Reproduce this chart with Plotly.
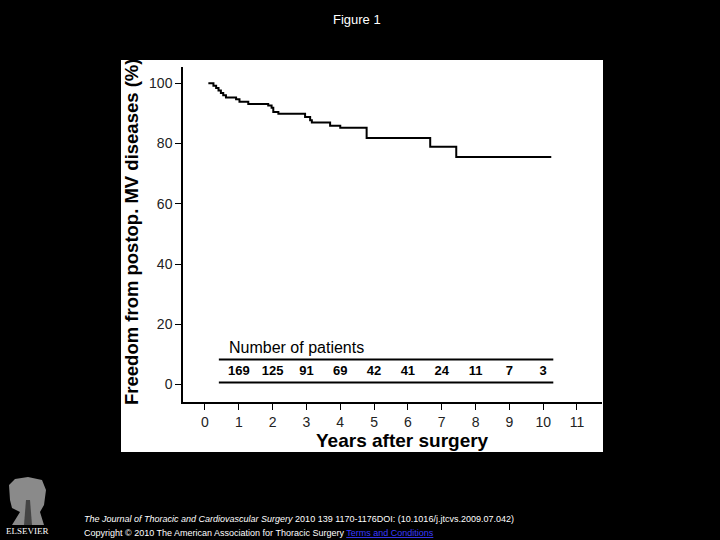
import plotly.graph_objects as go

# ---- data ----
times = [0.10, 0.25, 0.33, 0.40, 0.47, 0.54, 0.62, 0.92, 1.02, 1.28, 1.87, 1.97,
         2.02, 2.17, 2.96, 3.11, 3.16, 3.70, 4.00, 4.78, 6.66, 7.43, 10.24]
freedom = [100.0, 99.2, 98.4, 97.6, 96.8, 96.0, 95.3, 94.7, 93.9, 93.1, 92.6, 91.9,
           90.5, 89.9, 88.8, 87.7, 87.0, 85.9, 85.2, 81.8, 78.9, 75.5, 75.5]

risk_years = [1, 2, 3, 4, 5, 6, 7, 8, 9, 10]
risk_counts = [169, 125, 91, 69, 42, 41, 24, 11, 7, 3]
table_x = [0.41, 10.3]
table_rule_y = [8.3, 0.7]
table_text_y = 4.3
table_title_y = 12.3

x_ticks = list(range(0, 12))
y_ticks = [0, 20, 40, 60, 80, 100]

FONT = "Liberation Sans, Arial, sans-serif"

# plot area in pixels
L, R, T, B = 183, 602, 67, 402
W, H = 720, 540


def px(x):
    return (x - L) / (R - L)


def py(y):
    return (B - y) / (B - T)


fig = go.Figure()

fig.add_trace(go.Scatter(
    x=times, y=freedom, mode="lines", line=dict(color="black", width=2, shape="hv"),
    hoverinfo="skip", showlegend=False))

for ry in table_rule_y:
    fig.add_trace(go.Scatter(
        x=table_x, y=[ry, ry], mode="lines", line=dict(color="black", width=2),
        hoverinfo="skip", showlegend=False))

fig.add_trace(go.Scatter(
    x=risk_years, y=[table_text_y] * len(risk_years), mode="text",
    text=[f"<b>{c}</b>" for c in risk_counts],
    textfont=dict(family=FONT, size=13, color="black"),
    hoverinfo="skip", showlegend=False))

shapes = [
    dict(type="rect", xref="paper", yref="paper", x0=px(121), x1=px(603),
         y0=py(452), y1=py(60), fillcolor="white", line=dict(width=0), layer="below"),
    # Elsevier logo (tree, stylised)
    dict(type="path", xref="paper", yref="paper",
         path=(f"M {px(10)},{py(500)} L {px(9)},{py(485)} L {px(15)},{py(479)} "
               f"L {px(28)},{py(477)} L {px(42)},{py(480)} L {px(46)},{py(490)} "
               f"L {px(44)},{py(505)} L {px(40)},{py(512)} L {px(44)},{py(525)} "
               f"L {px(12)},{py(525)} L {px(20)},{py(512)} L {px(12)},{py(508)} Z"),
         fillcolor="#8a8a8a", line=dict(width=0), layer="above"),
    dict(type="path", xref="paper", yref="paper",
         path=(f"M {px(24)},{py(525)} L {px(26)},{py(500)} L {px(30)},{py(500)} "
               f"L {px(32)},{py(525)} Z"),
         fillcolor="#444444", line=dict(width=0), layer="above"),
]

annotations = [
    dict(text="Figure 1", xref="paper", yref="paper", x=px(357), y=py(19),
         showarrow=False, font=dict(family=FONT, size=13, color="white"),
         xanchor="center", yanchor="middle"),
    dict(text="<b>Freedom from postop. MV diseases (%)</b>", xref="paper", yref="paper",
         x=px(131), y=py(232), textangle=-90, showarrow=False,
         font=dict(family=FONT, size=18.5, color="black"), xanchor="center", yanchor="middle"),
    dict(text="<b>Years after surgery</b>", xref="paper", yref="paper",
         x=px(402), y=py(440), showarrow=False,
         font=dict(family=FONT, size=19, color="black"), xanchor="center", yanchor="middle"),
    dict(text="Number of patients", xref="x", yref="y", x=0.65, y=table_title_y,
         showarrow=False, font=dict(family=FONT, size=16, color="black"),
         xanchor="left", yanchor="middle"),
    dict(text=("<i>The Journal of Thoracic and Cardiovascular Surgery</i> 2010 139 "
               "1170-1176DOI: (10.1016/j.jtcvs.2009.07.042)"),
         xref="paper", yref="paper", x=px(82), y=py(519), showarrow=False,
         font=dict(family=FONT, size=9, color="white"), xanchor="left", yanchor="middle"),
    dict(text=("Copyright © 2010 The American Association for Thoracic Surgery "
               "<span style='color:#3a3aff;text-decoration:underline'>Terms and Conditions</span>"),
         xref="paper", yref="paper", x=px(82), y=py(533), showarrow=False,
         font=dict(family=FONT, size=9, color="white"), xanchor="left", yanchor="middle"),
    dict(text="ELSEVIER", xref="paper", yref="paper", x=px(27), y=py(531), showarrow=False,
         font=dict(family="Liberation Serif, serif", size=9, color="white"),
         xanchor="center", yanchor="middle"),
]

fig.update_layout(
    width=W, height=H,
    margin=dict(l=L, r=W - R, t=T, b=H - B, pad=0),
    paper_bgcolor="black", plot_bgcolor="white",
    shapes=shapes, annotations=annotations, showlegend=False,
    xaxis=dict(range=[-0.65, 11.74], tickvals=x_ticks, ticks="outside", ticklen=6,
               tickcolor="black", showline=True, linecolor="black", linewidth=1.5,
               showgrid=False, zeroline=False,
               tickfont=dict(family=FONT, size=14, color="#222222")),
    yaxis=dict(range=[-5.8, 105.4], tickvals=y_ticks, ticks="outside", ticklen=6,
               tickcolor="black", showline=True, linecolor="black", linewidth=1.5,
               showgrid=False, zeroline=False,
               tickfont=dict(family=FONT, size=14, color="#222222")),
)

fig.write_html("out.html", config={"displayModeBar": False},
               post_script="document.body.style.margin='0';document.body.style.background='black';")
